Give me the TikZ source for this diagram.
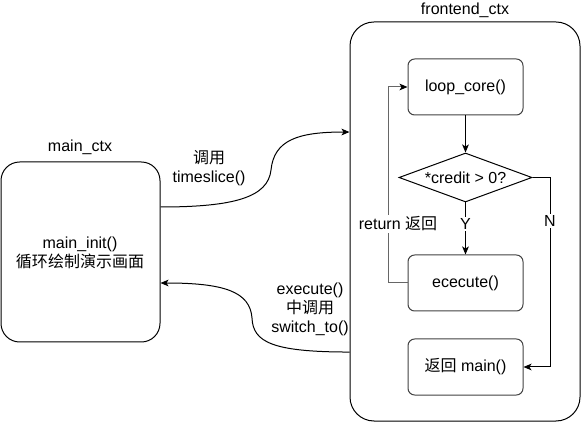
\documentclass[tikz,border=0pt]{standalone}
\usepackage{fontspec}
\setmainfont{Liberation Sans}
\newfontfamily\cjk{Noto Sans CJK SC}
\usetikzlibrary{shapes.geometric,arrows.meta}
\begin{document}
\begin{tikzpicture}[x=0.75pt,y=-0.75pt,
  every node/.style={font=\fontsize{12}{14.3}\selectfont, align=center, text=black},
  ctxbox/.style={draw=black, line width=0.75pt, rounded corners=14pt, inner sep=0pt},
  stepbox/.style={draw=black!75, line width=0.75pt, rounded corners=5pt, minimum width=86.25pt, minimum height=42pt, inner sep=0pt},
  decbox/.style={draw=black, line width=0.75pt, shape=diamond, aspect=2.7, minimum width=99.75pt, minimum height=36.75pt, inner sep=0pt},
  arr/.style={draw=black, line width=0.75pt, -{Stealth[length=6pt,width=5pt,inset=1.5pt]}},
  retarr/.style={draw=black!60, line width=0.75pt, -{Stealth[length=6pt,width=5pt,inset=1.5pt,color=black]}},
  lbl/.style={fill=white, inner sep=1pt}
]
\useasboundingbox (0,0) rectangle (581,423);
% outer contexts
\node[ctxbox, minimum width=119.25pt, minimum height=135pt] (mainctx) at (80.5,252) {};
\node[ctxbox, rounded corners=18pt, minimum width=172.5pt, minimum height=299.25pt] (fe) at (465,221.5) {};
\node at (80,147) {main\_ctx};
\node at (465,10) {frontend\_ctx};
\node at (80,252.5) {main\_init()\\{\cjk 循环绘制演示画面}};
% inner steps
\node[stepbox] (loop) at (465.5,87) {loop\_core()};
\node[decbox] (dia) at (465.5,177.5) {*credit \textgreater{} 0?};
\node[stepbox] (exe) at (465.5,283) {ececute()};
\node[stepbox] (ret) at (465.5,367) {{\cjk 返回} main()};
% inner connectors
\draw[arr] (loop.south) -- (dia.north);
\draw[arr] (dia.south) -- node[lbl, pos=0.42] {Y} (exe.north);
\coordinate (nc) at (550,177.5);
\draw[arr] (dia.east) -- (nc) |- node[lbl, pos=0.115] {N} (ret.east);
\coordinate (rc) at (388,283);
\draw[retarr] (exe.west) -- (rc) |- (loop.west);
\node[lbl] at (398,224) {return {\cjk 返回}};
% curved connectors
\draw[arr] ([yshift=33.75pt]mainctx.east) .. controls (235,207) and (268,197) .. (271,170)
  .. controls (274,140) and (298,132) .. ([yshift=67.1pt]fe.west);
\node at (209,168.5) {{\cjk 调用}\\timeslice()};
\draw[arr] ([yshift=-97.9pt]fe.west) .. controls (272,352) and (253,342) .. (252,318)
  .. controls (250,292) and (225,283) .. ([yshift=-23.25pt]mainctx.east);
\node at (310,309) {execute()\\{\cjk 中调用}\\switch\_to()};
\end{tikzpicture}
\end{document}
